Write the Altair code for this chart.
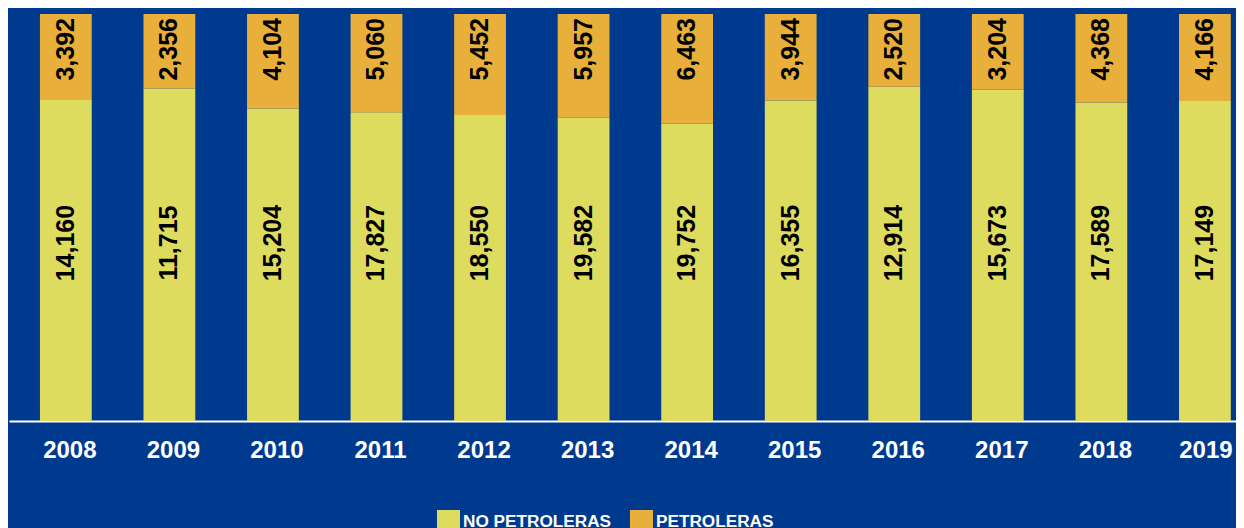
import altair as alt
import pandas as pd

years = ["2008", "2009", "2010", "2011", "2012", "2013", "2014", "2015", "2016", "2017", "2018", "2019"]
no_petroleras = [14160, 11715, 15204, 17827, 18550, 19582, 19752, 16355, 12914, 15673, 17589, 17149]
petroleras = [3392, 2356, 4104, 5060, 5452, 5957, 6463, 3944, 2520, 3204, 4368, 4166]
series = ["NO PETROLERAS", "PETROLERAS"]
colors = ["#DEDC5E", "#E8B03A"]

rows = []
for i, yr in enumerate(years):
    rows.append({"year": yr, "serie": series[0], "value": no_petroleras[i], "order": 0})
    rows.append({"year": yr, "serie": series[1], "value": petroleras[i], "order": 1})
df = pd.DataFrame(rows)

FONT = "Liberation Sans"

x = alt.X(
    "year:N",
    sort=years,
    scale=alt.Scale(paddingInner=0.5, paddingOuter=0.1746, align=0.856, round=False),
    axis=alt.Axis(
        title=None, labelAngle=0, ticks=False, tickSize=0, labelPadding=17,
        labelOffset={"condition": {"test": "datum.value == '2019'", "value": 1}, "value": 4},
        labelFont=FONT, labelFontSize=24, labelFontWeight="bold",
        labelColor="white", domainColor="white", domainWidth=2, grid=False,
    ),
)

yscale = alt.Scale(domain=[0.085, 1], zero=False, nice=False, round=False)

bars = alt.Chart(df).mark_bar(clip=True).encode(
    x=x,
    y=alt.Y("value:Q", stack="normalize", scale=yscale, axis=None),
    color=alt.Color(
        "serie:N",
        scale=alt.Scale(domain=series, range=colors),
        legend=alt.Legend(
            title=None, orient="none", legendX=428, legendY=496, direction="horizontal",
            symbolType="square", symbolSize=529, symbolStrokeWidth=0, symbolOpacity=1,
            labelFont=FONT, labelFontSize=17.2, labelFontWeight="bold", labelColor="white",
            labelOffset=3, columnPadding=18, padding=0, labelLimit=0,
        ),
    ),
    order=alt.Order("order:Q"),
)

top_labels = alt.Chart(df).transform_filter(alt.datum.serie == "PETROLERAS").mark_text(
    angle=270, align="right", baseline="middle", dx=-4,
    font=FONT, fontSize=25, fontWeight="bold", color="black",
).encode(
    x=x,
    y=alt.YDatum(1),
    text=alt.Text("value:Q", format=","),
)

mid_labels = alt.Chart(df).transform_filter(alt.datum.serie == "NO PETROLERAS").mark_text(
    angle=270, align="center", baseline="middle",
    font=FONT, fontSize=25, fontWeight="bold", color="black",
).encode(
    x=x,
    y=alt.YDatum(0.485),
    text=alt.Text("value:Q", format=","),
)

chart = alt.layer(bars, top_labels, mid_labels).properties(
    width=1227, height=407,
    background="#003A8F",
    padding={"left": 1, "top": 6, "right": 0, "bottom": 107},
    autosize=alt.AutoSizeParams(type="none"),
).configure_view(stroke=None)

chart.save("out.html", embed_options={"renderer": "svg", "actions": False})
